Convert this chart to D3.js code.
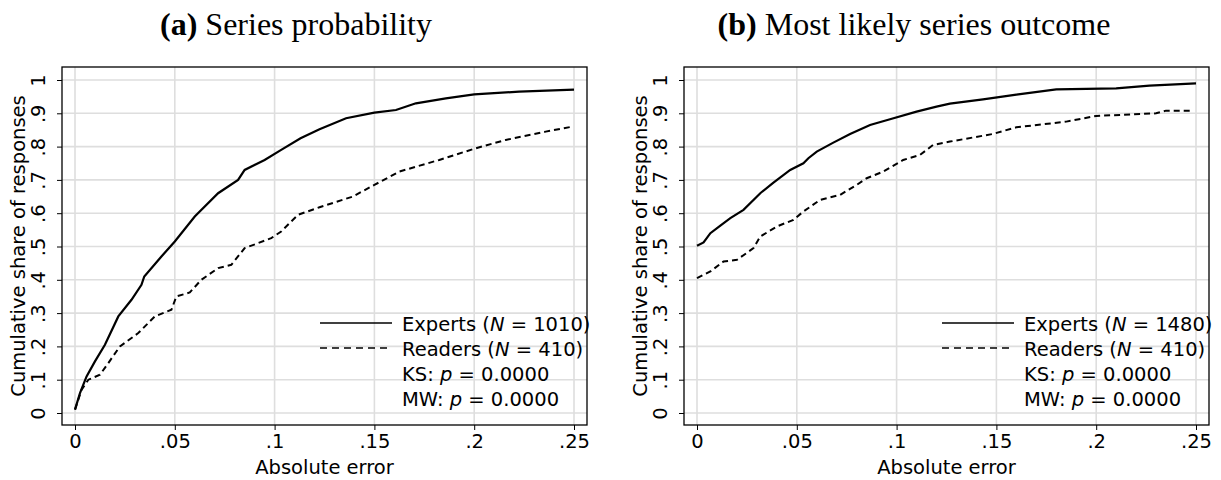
<!DOCTYPE html>
<html>
<head>
<meta charset="utf-8">
<script src="https://cdn.jsdelivr.net/npm/d3@7"></script>
<style>
  body { margin: 0; background: #fff; }
  svg { display: block; }
  text { font-family: "DejaVu Sans", sans-serif; }
</style>
</head>
<body>
<svg width="1221" height="480"></svg>
<script>
// cumulative distribution of absolute error
// panel (a): series probability
var expertsA_x = [0, 0.0025, 0.0058, 0.01, 0.015, 0.0217, 0.0283, 0.0333, 0.0347, 0.0433, 0.05, 0.06, 0.0717, 0.0817, 0.085, 0.095, 0.1033, 0.113, 0.1225, 0.1358, 0.15, 0.1608, 0.1708, 0.1858, 0.2, 0.2225, 0.25];
var expertsA_y = [0.01, 0.06, 0.11, 0.155, 0.205, 0.29, 0.34, 0.385, 0.41, 0.47, 0.515, 0.59, 0.66, 0.70, 0.73, 0.76, 0.79, 0.825, 0.852, 0.885, 0.902, 0.91, 0.93, 0.945, 0.957, 0.965, 0.971];
var readersA_x = [0, 0.0033, 0.0067, 0.0125, 0.0167, 0.0225, 0.0317, 0.04, 0.0483, 0.0508, 0.0575, 0.0633, 0.0717, 0.0783, 0.085, 0.0983, 0.1033, 0.1117, 0.1225, 0.1392, 0.15, 0.1625, 0.1825, 0.2008, 0.2158, 0.2358, 0.2492];
var readersA_y = [0.01, 0.07, 0.10, 0.115, 0.15, 0.20, 0.24, 0.29, 0.31, 0.35, 0.362, 0.40, 0.435, 0.445, 0.495, 0.525, 0.545, 0.595, 0.618, 0.65, 0.685, 0.725, 0.76, 0.795, 0.82, 0.845, 0.86];

// panel (b): most likely series outcome
var expertsB_x = [0, 0.0033, 0.0067, 0.0117, 0.0167, 0.0233, 0.0317, 0.0383, 0.0467, 0.0533, 0.0558, 0.06, 0.0683, 0.0767, 0.0867, 0.0967, 0.11, 0.12, 0.1267, 0.1433, 0.16, 0.18, 0.21, 0.2267, 0.25];
var expertsB_y = [0.502, 0.512, 0.54, 0.563, 0.585, 0.61, 0.66, 0.692, 0.73, 0.75, 0.765, 0.785, 0.812, 0.838, 0.865, 0.882, 0.905, 0.92, 0.929, 0.942, 0.956, 0.972, 0.975, 0.983, 0.99];
var readersB_x = [0, 0.0067, 0.0133, 0.02, 0.0283, 0.0317, 0.04, 0.0483, 0.0533, 0.0617, 0.0717, 0.08, 0.085, 0.0933, 0.1033, 0.1117, 0.1183, 0.1267, 0.1483, 0.16, 0.185, 0.2, 0.23, 0.235, 0.2475];
var readersB_y = [0.405, 0.425, 0.455, 0.46, 0.495, 0.53, 0.56, 0.58, 0.605, 0.64, 0.655, 0.685, 0.705, 0.725, 0.76, 0.775, 0.805, 0.815, 0.838, 0.858, 0.875, 0.892, 0.90, 0.908, 0.908];

var xTicks = [0, 0.05, 0.1, 0.15, 0.2, 0.25];
var xTickLabels = ["0", ".05", ".1", ".15", ".2", ".25"];
var yTicks = [0, 0.1, 0.2, 0.3, 0.4, 0.5, 0.6, 0.7, 0.8, 0.9, 1];
var yTickLabels = ["0", ".1", ".2", ".3", ".4", ".5", ".6", ".7", ".8", ".9", "1"];

var panelTags = ["(a)", "(b)"];
var panelTitles = ["Series probability", "Most likely series outcome"];
var expertsN = [1010, 1480];
var readersN = [410, 410];
var ksP = ["0.0000", "0.0000"];
var mwP = ["0.0000", "0.0000"];

var svg = d3.select("svg");
var fs = 19.5;

function zip(xs, ys) {
  return xs.map(function (x, i) { return [x, ys[i]]; });
}

function drawPanel(i, left, expX, expY, rdX, rdY, titleX) {
  var frame = { l: left, r: left + 525, t: 67, b: 425 };
  var x = d3.scaleLinear().domain([0, 0.25]).range([frame.l + 13, frame.l + 512]);
  var y = d3.scaleLinear().domain([0, 1]).range([413, 80]);
  var g = svg.append("g");

  // title
  var t = g.append("text")
    .attr("x", titleX).attr("y", 35)
    .attr("text-anchor", "middle")
    .style("font-family", "'Liberation Serif', serif")
    .style("font-size", "32px");
  t.append("tspan").attr("font-weight", "bold").text(panelTags[i]);
  t.append("tspan").text(" " + panelTitles[i]);

  // grid
  g.selectAll(".gx").data(xTicks).enter().append("line")
    .attr("x1", x).attr("x2", x)
    .attr("y1", frame.t).attr("y2", frame.b)
    .attr("stroke", "#dedede").attr("stroke-width", 1.6);
  g.selectAll(".gy").data(yTicks).enter().append("line")
    .attr("x1", frame.l).attr("x2", frame.r)
    .attr("y1", y).attr("y2", y)
    .attr("stroke", "#dedede").attr("stroke-width", 1.6);

  // axes
  var xAxis = d3.axisBottom(x).tickValues(xTicks).tickSize(5).tickPadding(4)
    .tickFormat(function (d, k) { return xTickLabels[k]; });
  var ax = g.append("g").attr("transform", "translate(0," + frame.b + ")").call(xAxis);
  ax.select(".domain").remove();
  ax.selectAll("text").style("font-family", "'DejaVu Sans', sans-serif").style("font-size", fs + "px").attr("fill", "#000");
  ax.selectAll("line").attr("stroke", "#000");

  var yAxis = d3.axisLeft(y).tickValues(yTicks).tickSize(5)
    .tickFormat(function (d, k) { return yTickLabels[k]; });
  var ay = g.append("g").attr("transform", "translate(" + frame.l + ",0)").call(yAxis);
  ay.select(".domain").remove();
  ay.selectAll("line").attr("stroke", "#000");
  ay.selectAll("text")
    .attr("x", null).attr("dy", null)
    .attr("transform", "translate(-17,0) rotate(-90)")
    .attr("text-anchor", "middle")
    .attr("y", 0)
    .style("font-family", "'DejaVu Sans', sans-serif").style("font-size", fs + "px").attr("fill", "#000");

  // frame
  g.append("rect")
    .attr("x", frame.l).attr("y", frame.t)
    .attr("width", frame.r - frame.l).attr("height", frame.b - frame.t)
    .attr("fill", "none").attr("stroke", "#000").attr("stroke-width", 1.3);

  // axis titles
  g.append("text")
    .attr("x", (frame.l + frame.r) / 2).attr("y", 474)
    .attr("text-anchor", "middle").style("font-size", fs + "px")
    .text("Absolute error");
  g.append("text")
    .attr("transform", "translate(" + (frame.l - 37) + "," + ((frame.t + frame.b) / 2) + ") rotate(-90)")
    .attr("text-anchor", "middle").style("font-size", fs + "px")
    .text("Cumulative share of responses");

  // curves
  var line = d3.line().x(function (d) { return x(d[0]); }).y(function (d) { return y(d[1]); });
  g.append("path").datum(zip(rdX, rdY)).attr("d", line)
    .attr("fill", "none").attr("stroke", "#000").attr("stroke-width", 2)
    .attr("stroke-dasharray", "6,4");
  g.append("path").datum(zip(expX, expY)).attr("d", line)
    .attr("fill", "none").attr("stroke", "#000").attr("stroke-width", 2.2);

  // legend
  var lx = frame.l + 258, tx = frame.l + 340;
  var rows = [331, 356, 381, 406];
  g.append("line").attr("x1", lx).attr("x2", lx + 72).attr("y1", rows[0] - 8).attr("y2", rows[0] - 8)
    .attr("stroke", "#000").attr("stroke-width", 1.6);
  g.append("line").attr("x1", lx).attr("x2", lx + 72).attr("y1", rows[1] - 8).attr("y2", rows[1] - 8)
    .attr("stroke", "#000").attr("stroke-width", 1.6).attr("stroke-dasharray", "7,5");

  var legendRows = [
    ["Experts (", "N", " = " + expertsN[i] + ")"],
    ["Readers (", "N", " = " + readersN[i] + ")"],
    ["KS: ", "p", " = " + ksP[i]],
    ["MW: ", "p", " = " + mwP[i]]
  ];
  legendRows.forEach(function (r, k) {
    var tt = g.append("text").attr("x", tx).attr("y", rows[k]).style("font-size", fs + "px");
    tt.append("tspan").text(r[0]);
    tt.append("tspan").attr("font-style", "italic").text(r[1]);
    tt.append("tspan").text(r[2]);
  });
}

drawPanel(0, 62, expertsA_x, expertsA_y, readersA_x, readersA_y, 296);
drawPanel(1, 684, expertsB_x, expertsB_y, readersB_x, readersB_y, 914);
</script>
</body>
</html>
